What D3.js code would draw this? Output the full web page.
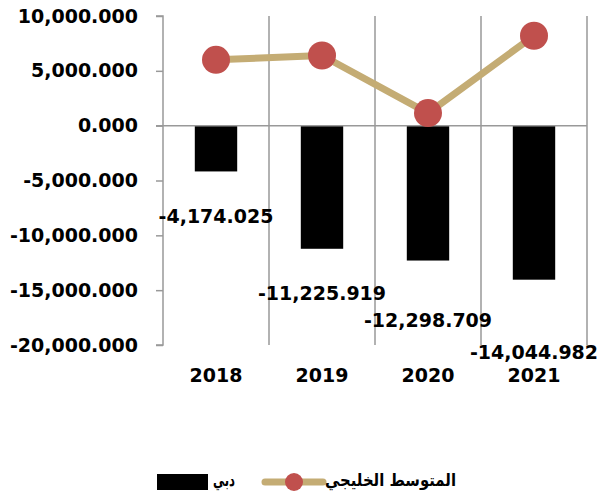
<!DOCTYPE html>
<html><head><meta charset="utf-8">
<script src="https://cdn.jsdelivr.net/npm/d3@7"></script>
<style>body{margin:0;background:#fff}svg{display:block}</style>
</head><body><svg id="c" width="601" height="496"></svg>
<script>
const categories = ["2018","2019","2020","2021"];
const dubaiValues = [-4174.025,-11225.919,-12298.709,-14044.982];
const gulfAvgValues = [6000,6400,1150,8200];
const yTicks = [10000,5000,0,-5000,-10000,-15000,-20000];
const seriesNames = ["دبي","المتوسط الخليجي"];
// layout: extra offset of each data label below bar end (px)
const labelOffsets = [45,44,59,72];

(function(){
const svg = d3.select("#c");
const pl = 163, pr = 587, pt = 16, pb = 345;
const x = d3.scaleBand().domain(categories).range([pl,pr]).padding(0);
const y = d3.scaleLinear().domain([-20000,10000]).range([pb,pt]);
const fmt = d3.formatLocale({decimal:".",thousands:",",grouping:[3],currency:["",""],minus:"-"}).format(",.3f");
const font = "DejaVu Sans, sans-serif";

// vertical gridlines
svg.append("g").selectAll("line").data(categories).join("line")
  .attr("x1",d=>x(d)+x.bandwidth()).attr("x2",d=>x(d)+x.bandwidth())
  .attr("y1",pt).attr("y2",pb)
  .attr("stroke","#999").attr("stroke-width",1.5);

// y axis
const yAxis = d3.axisLeft(y).tickValues(yTicks).tickSize(7).tickPadding(18).tickFormat(fmt);
const ga = svg.append("g").attr("transform",`translate(${pl},0)`).call(yAxis);
ga.select(".domain").attr("stroke","#999").attr("stroke-width",1.5).attr("d",`M-7,${pt}H0V${pb}H-7`);
ga.selectAll(".tick line").attr("stroke","#999").attr("stroke-width",1.5);
ga.selectAll(".tick text").attr("font-family",font).attr("font-weight","bold").attr("font-size",19).attr("fill","#000");

// bars
const bw = x.bandwidth()*0.4;
svg.append("g").selectAll("rect").data(dubaiValues).join("rect")
  .attr("x",(d,i)=>x(categories[i])+(x.bandwidth()-bw)/2)
  .attr("y",d=>y(Math.max(0,d)))
  .attr("width",bw)
  .attr("height",d=>Math.abs(y(d)-y(0)))
  .attr("fill","#000");

// zero axis line
svg.append("line").attr("x1",pl-7).attr("x2",pr).attr("y1",y(0)).attr("y2",y(0))
  .attr("stroke","#999").attr("stroke-width",1.5);

// x labels
const gx = svg.append("g").attr("transform",`translate(0,${pb})`)
  .call(d3.axisBottom(x).tickSize(0).tickPadding(24));
gx.select(".domain").remove();
gx.selectAll(".tick text").attr("font-family",font).attr("font-weight","bold").attr("font-size",19).attr("fill","#000");

// line
const cx = (d,i)=>x(categories[i])+x.bandwidth()/2;
svg.append("path").datum(gulfAvgValues)
  .attr("d",d3.line().x(cx).y(d=>y(d)))
  .attr("fill","none").attr("stroke","#C4AC74").attr("stroke-width",7).attr("stroke-linejoin","round");
svg.append("g").selectAll("circle").data(gulfAvgValues).join("circle")
  .attr("cx",cx).attr("cy",d=>y(d)).attr("r",14).attr("fill","#C0504D");

// data labels
svg.append("g").selectAll("text").data(dubaiValues).join("text")
  .attr("x",(d,i)=>cx(d,i)).attr("y",(d,i)=>y(d)+labelOffsets[i])
  .attr("text-anchor","middle").attr("dominant-baseline","central")
  .attr("font-family",font).attr("font-weight","bold").attr("font-size",19)
  .text(d=>fmt(d));

// legend
const lg = svg.append("g");
lg.append("rect").attr("x",157).attr("y",474).attr("width",51).attr("height",16).attr("fill","#000");
lg.append("text").attr("x",213).attr("y",480).attr("dominant-baseline","central")
  .attr("textLength",22).attr("lengthAdjust","spacingAndGlyphs")
  .attr("font-family",font).attr("font-weight","bold").attr("font-size",17).text(seriesNames[0]);
lg.append("line").attr("x1",265).attr("x2",323).attr("y1",482).attr("y2",482)
  .attr("stroke","#C4AC74").attr("stroke-width",7).attr("stroke-linecap","round");
lg.append("circle").attr("cx",294).attr("cy",482).attr("r",9).attr("fill","#C0504D");
lg.append("text").attr("x",325).attr("y",480).attr("dominant-baseline","central")
  .attr("textLength",131).attr("lengthAdjust","spacingAndGlyphs")
  .attr("font-family",font).attr("font-weight","bold").attr("font-size",17).text(seriesNames[1]);
})();
</script></body></html>
